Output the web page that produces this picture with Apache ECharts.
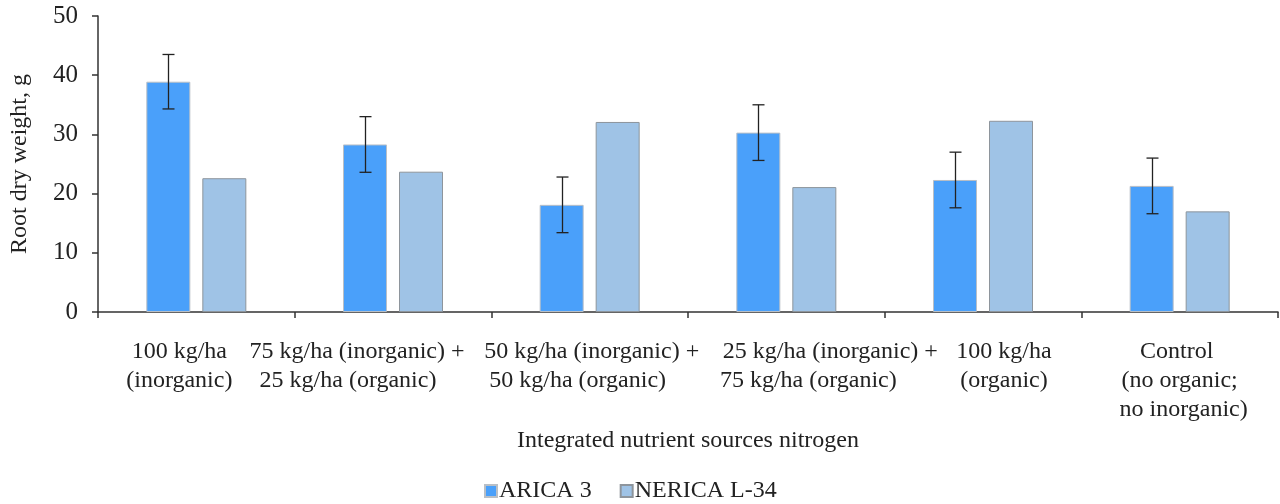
<!DOCTYPE html>
<html>
<head>
<meta charset="utf-8">
<script src="https://cdn.jsdelivr.net/npm/echarts@6/dist/echarts.min.js"></script>
<style>
  html, body { margin: 0; padding: 0; background: #fff; }
  #chart { width: 1280px; height: 504px; }
</style>
</head>
<body>
<div id="chart"></div>
<script>
const categories = [
  '100 kg/ha\n(inorganic)',
  '75 kg/ha (inorganic) +\n25 kg/ha (organic)',
  '50 kg/ha (inorganic) +\n50 kg/ha (organic)',
  '25 kg/ha (inorganic) +\n75 kg/ha (organic)',
  '100 kg/ha\n(organic)',
  'Control\n(no organic;\nno inorganic)'
];
const arica3 = [38.9, 28.3, 18.1, 30.3, 22.3, 21.3];
const aricaErr = [4.6, 4.7, 4.7, 4.7, 4.7, 4.7];
const nericaL34 = [22.6, 23.7, 32.1, 21.1, 32.3, 17.0];
const yTicks = { min: 0, max: 50, interval: 10 };

const FONT = '"Liberation Serif", "Times New Roman", serif';
const FS = 24;
const BAR_W = 44;
const BAR_GAP = 12;

// Horizontal nudge (px) for each line of each category label, so the long
// two-line labels do not run into each other.
const LABEL_NUDGE = [
  [-17, -17],
  [-36, -45],
  [2, -12],
  [44, 22],
  [21, 21],
  [-3, 0, 4]
];

const richStyles = {};
const nudgeKey = d => 'n' + (d < 0 ? 'm' + (-d) : 'p' + d);
LABEL_NUDGE.flat().forEach(d => {
  richStyles[nudgeKey(d)] = {
    fontFamily: FONT, fontSize: FS, color: '#222', lineHeight: 29,
    padding: d >= 0 ? [0, 0, 0, 2 * d] : [0, -2 * d, 0, 0]
  };
});

function formatCategory(value, index) {
  return value.split('\n')
    .map((line, j) => '{' + nudgeKey(LABEL_NUDGE[index][j] || 0) + '|' + line + '}')
    .join('\n');
}

const chart = echarts.init(document.getElementById('chart'));

// Error bars sit on the ARICA 3 bar, left of the category centre.
function renderErrorBar(params, api) {
  const idx = api.value(0);
  const v = api.value(1);
  const e = api.value(2);
  const shift = -(BAR_W + BAR_GAP) / 2;
  const top = api.coord([idx, v + e]);
  const bot = api.coord([idx, v - e]);
  const x = Math.round(top[0] + shift) + 0.5;
  const cap = 6;
  const style = { stroke: '#222', lineWidth: 1.3 };
  return {
    type: 'group',
    children: [
      { type: 'line', shape: { x1: x, y1: top[1], x2: x, y2: bot[1] }, style },
      { type: 'line', shape: { x1: x - cap, y1: top[1], x2: x + cap, y2: top[1] }, style },
      { type: 'line', shape: { x1: x - cap, y1: bot[1], x2: x + cap, y2: bot[1] }, style }
    ]
  };
}

chart.setOption({
  animation: false,
  textStyle: { fontFamily: FONT },
  grid: { left: 98, right: 2, top: 16, bottom: 192, containLabel: false, outerBoundsMode: 'none' },
  legend: {
    data: ['ARICA 3', 'NERICA L-34'],
    top: 474,
    left: 479,
    icon: 'rect',
    itemWidth: 12,
    itemHeight: 12,
    itemGap: 28,
    textStyle: { fontFamily: FONT, fontSize: FS, color: '#222', padding: [0, 0, 0, -3] }
  },
  xAxis: {
    type: 'category',
    data: categories,
    name: 'Integrated nutrient sources nitrogen',
    nameLocation: 'middle',
    nameGap: 117,
    nameTextStyle: { fontFamily: FONT, fontSize: FS, color: '#222' },
    axisLine: { lineStyle: { color: '#333', width: 1.5 } },
    axisTick: { show: true, alignWithLabel: false, length: 6, lineStyle: { color: '#333', width: 1.5 } },
    axisLabel: {
      fontFamily: FONT, fontSize: FS, color: '#222', lineHeight: 29, margin: 25, interval: 0,
      formatter: formatCategory,
      rich: richStyles
    }
  },
  yAxis: {
    type: 'value',
    min: yTicks.min,
    max: yTicks.max,
    interval: yTicks.interval,
    name: 'Root dry weight, g',
    nameLocation: 'middle',
    nameGap: 66,
    nameRotate: 90,
    nameTextStyle: { fontFamily: FONT, fontSize: FS, color: '#222' },
    axisLine: { show: true, lineStyle: { color: '#333', width: 1.5 } },
    axisTick: { show: true, length: 6, lineStyle: { color: '#333', width: 1.5 } },
    axisLabel: { fontFamily: FONT, fontSize: 25, color: '#222', margin: 20 },
    splitLine: { show: false }
  },
  series: [
    {
      name: 'ARICA 3',
      type: 'bar',
      data: arica3,
      barWidth: BAR_W,
      barGap: (BAR_GAP / BAR_W * 100) + '%',
      itemStyle: { color: '#4aa0fa', borderColor: '#b9bfc6', borderWidth: 1 }
    },
    {
      name: 'NERICA L-34',
      type: 'bar',
      data: nericaL34,
      barWidth: BAR_W,
      barGap: (BAR_GAP / BAR_W * 100) + '%',
      itemStyle: { color: '#9fc3e6', borderColor: '#8e959c', borderWidth: 1 }
    },
    {
      name: 'ARICA 3 error',
      type: 'custom',
      data: arica3.map((v, i) => [i, v, aricaErr[i]]),
      encode: { x: 0, y: 1 },
      renderItem: renderErrorBar,
      z: 10,
      silent: true
    }
  ]
});
</script>
</body>
</html>
